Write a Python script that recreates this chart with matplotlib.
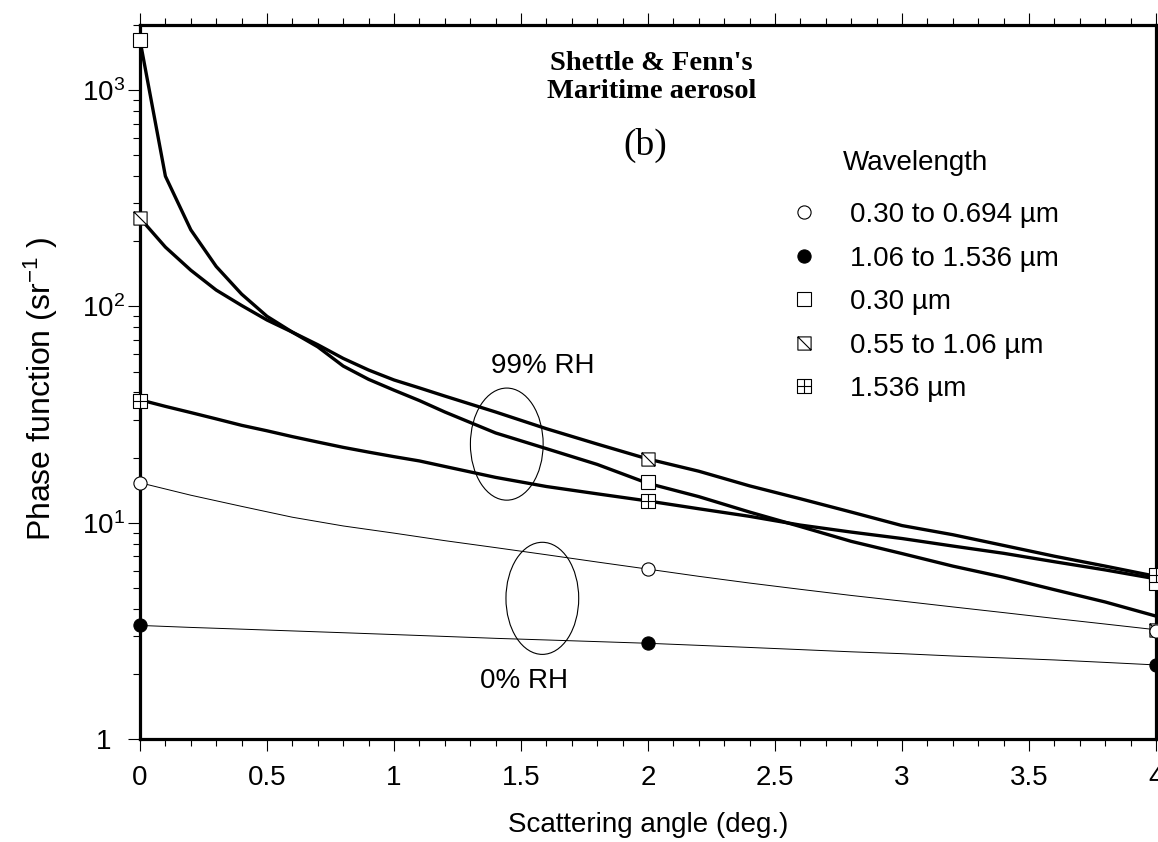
import matplotlib
matplotlib.use('Agg')
import matplotlib.pyplot as plt
from matplotlib.patches import Ellipse
from matplotlib.path import Path
from matplotlib.lines import Line2D
from matplotlib.transforms import ScaledTranslation
from matplotlib.ticker import MultipleLocator, FixedLocator, FixedFormatter, NullFormatter, LogLocator, FormatStrFormatter

plt.rcParams['font.family'] = ['Liberation Sans', 'DejaVu Sans']
plt.rcParams['mathtext.fontset'] = 'custom'
plt.rcParams['mathtext.rm'] = 'Liberation Sans'
plt.rcParams['mathtext.it'] = 'Liberation Sans:italic'
plt.rcParams['mathtext.bf'] = 'Liberation Sans:bold'

# 99% RH curves (thick lines)
angle_99 = [0, 0.1, 0.2, 0.3, 0.4, 0.5, 0.6, 0.7, 0.8, 0.9, 1.0, 1.1, 1.2, 1.4,
            1.6, 1.8, 2.0, 2.2, 2.4, 2.6, 2.8, 3.0, 3.2, 3.4, 3.6, 3.8, 4.0]
p99_030 = [1700, 400, 226, 153, 114, 90, 76, 65, 53, 46, 41, 36.7, 32.5, 26,
           22, 18.6, 15.2, 13.2, 11.2, 9.6, 8.2, 7.2, 6.3, 5.6, 4.9, 4.3, 3.7]
p99_055 = [256, 188, 147, 119, 101, 86.5, 76, 66.5, 57.5, 50.8, 45.7, 42, 38.5, 32.5,
           27.2, 23.1, 19.7, 17.3, 14.8, 12.9, 11.2, 9.7, 8.8, 7.85, 7.0, 6.3, 5.65]
p99_1536 = [37, 34.5, 32.3, 30.2, 28.2, 26.6, 25, 23.6, 22.3, 21.2, 20.2, 19.3, 18.2, 16.2,
            14.7, 13.6, 12.6, 11.6, 10.7, 9.75, 9.05, 8.45, 7.8, 7.22, 6.6, 6.05, 5.5]

# 0% RH curves (thin lines)
angle_0 = [0, 0.2, 0.4, 0.6, 0.8, 1.0, 1.2, 1.4, 1.6, 1.8, 2.0,
           2.2, 2.4, 2.6, 2.8, 3.0, 3.2, 3.4, 3.6, 3.8, 4.0]
p0_030 = [15.3, 13.4, 11.9, 10.6, 9.66, 8.95, 8.26, 7.67, 7.11, 6.58, 6.1,
          5.65, 5.26, 4.92, 4.61, 4.34, 4.08, 3.84, 3.61, 3.4, 3.2]
p0_106 = [3.35, 3.28, 3.22, 3.16, 3.1, 3.04, 2.98, 2.92, 2.87, 2.82, 2.77,
          2.71, 2.65, 2.59, 2.53, 2.48, 2.42, 2.37, 2.32, 2.26, 2.2]

# tabulated points (markers)
mark_angle = [0, 2, 4]
m_030_0694 = [15.3, 6.1, 3.15]
m_106_1536 = [3.35, 2.77, 2.2]
m_030 = [1700, 15.5, 5.25]
m_055_106 = [256, 19.6, 3.2]
m_1536 = [36.6, 12.6, 5.75]

legend_labels = ['0.30 to 0.694 µm', '1.06 to 1.536 µm', '0.30 µm',
                 '0.55 to 1.06 µm', '1.536 µm']

M, L, C = Path.MOVETO, Path.LINETO, Path.CLOSEPOLY
diag_square = Path([(-1, -1), (1, -1), (1, 1), (-1, 1), (-1, -1), (-1, 1), (1, -1)],
                   [M, L, L, L, C, M, L])
cross_square = Path([(-1, -1), (1, -1), (1, 1), (-1, 1), (-1, -1),
                     (0, -1), (0, 1), (-1, 0), (1, 0)],
                    [M, L, L, L, C, M, L, M, L])

W, H = 1158, 842
fig = plt.figure(figsize=(W / 100, H / 100), dpi=100)
ax = fig.add_axes([140 / W, 1 - 739 / H, 1016 / W, 714 / H])

ax.plot(angle_99, p99_030, color='k', lw=2.4, zorder=2)
ax.plot(angle_99, p99_055, color='k', lw=2.4, zorder=2)
ax.plot(angle_99, p99_1536, color='k', lw=2.4, zorder=2)
ax.plot(angle_0, p0_030, color='k', lw=0.7, zorder=2)
ax.plot(angle_0, p0_106, color='k', lw=0.7, zorder=2)

mk = dict(ls='none', mec='k', mew=0.8, ms=9.5, clip_on=False, zorder=5)
styles = [dict(marker='o', mfc='white'),
          dict(marker='o', mfc='black'),
          dict(marker='s', mfc='white'),
          dict(marker=diag_square, mfc='white'),
          dict(marker=cross_square, mfc='white')]
series = [m_030_0694, m_106_1536, m_030, m_055_106, m_1536]
order = [2, 3, 4, 0, 1]
for i in order:
    ax.plot(mark_angle, series[i], **mk, **styles[i])

ax.set_yscale('log')
ax.set_xlim(0, 4)
ax.set_ylim(1, 2000)

ax.xaxis.set_major_locator(MultipleLocator(0.5))
ax.xaxis.set_minor_locator(MultipleLocator(0.1))
ax.xaxis.set_major_formatter(FormatStrFormatter('%g'))
ax.yaxis.set_major_locator(FixedLocator([1, 10, 100, 1000]))
ax.yaxis.set_major_formatter(FixedFormatter(['1', r'$10^1$', r'$10^2$', r'$10^3$']))
ax.yaxis.set_minor_locator(LogLocator(base=10, subs=range(2, 10), numticks=20))
ax.yaxis.set_minor_formatter(NullFormatter())

ax.tick_params(which='both', direction='out', top=True, right=True, width=0.8, color='k')
ax.tick_params(which='major', length=8.6)
ax.tick_params(which='minor', length=4.8)
ax.tick_params(axis='x', which='major', labelsize=20, pad=10)
ax.tick_params(axis='y', which='major', labelsize=20, pad=2)
for s in ax.spines.values():
    s.set_linewidth(2.3)

# line the plain "1" up with the "10" of the other labels
first = ax.yaxis.get_major_ticks()[0].label1
first.set_transform(first.get_transform() + ScaledTranslation(-0.14, 0, fig.dpi_scale_trans))

ax.set_xlabel('Scattering angle (deg.)', fontsize=20)
ax.set_ylabel(r'Phase function (sr$^{-1}$ )', fontsize=23)
ax.xaxis.set_label_coords(0.5, -0.102)
ax.yaxis.set_label_coords(-0.079, 0.49)

# annotations
ax.text(0.5035, 0.937, "Shettle & Fenn's", transform=ax.transAxes, ha='center',
        va='baseline', fontsize=20.5, fontweight='bold', family='Liberation Serif')
ax.text(0.5035, 0.898, 'Maritime aerosol', transform=ax.transAxes, ha='center',
        va='baseline', fontsize=20.5, fontweight='bold', family='Liberation Serif')
ax.text(0.4975, 0.832, '(b)', transform=ax.transAxes, ha='center', va='center',
        fontsize=27, family='Liberation Serif')
ax.text(0.345, 0.512, '99% RH', transform=ax.transAxes, ha='left', va='baseline', fontsize=20)
ax.text(0.335, 0.0714, '0% RH', transform=ax.transAxes, ha='left', va='baseline', fontsize=20)
ax.add_patch(Ellipse((0.361, 0.413), 0.0716, 0.157, transform=ax.transAxes,
                     fill=False, lw=0.8, color='k'))
ax.add_patch(Ellipse((0.396, 0.197), 0.0716, 0.157, transform=ax.transAxes,
                     fill=False, lw=0.8, color='k'))

ax.text(0.692, 0.797, 'Wavelength', transform=ax.transAxes, ha='left', va='baseline', fontsize=20)
handles = [Line2D([], [], ls='none', mec='k', mew=0.8, ms=9.5, **styles[i]) for i in range(5)]
ax.legend(handles, legend_labels, loc='upper left', bbox_to_anchor=(0.640, 0.752),
          frameon=False, fontsize=20, handlelength=1.0, handletextpad=1.15,
          labelspacing=0.63, borderpad=0, borderaxespad=0)

fig.savefig('out.png', dpi=100)
